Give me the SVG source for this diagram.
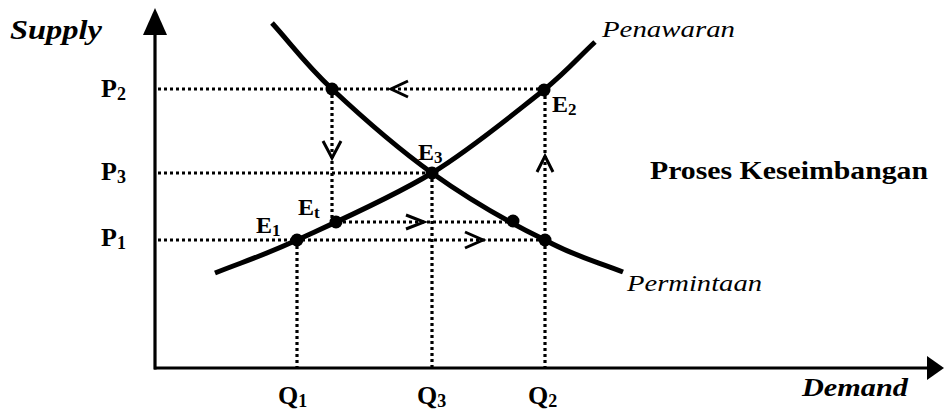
<svg xmlns="http://www.w3.org/2000/svg" width="944" height="416" viewBox="0 0 944 416">
<style>
.t{font-family:"Liberation Serif","Times New Roman",serif;fill:#000}
.b{font-weight:bold}
.i{font-style:italic}
.dot{stroke:#000;stroke-width:3.2;stroke-dasharray:3 3;fill:none}
.crv{stroke:#000;stroke-width:5;fill:none;stroke-linecap:butt}
.ax{stroke:#000;stroke-width:3.2;fill:none}
.chev{stroke:#000;stroke-width:3;fill:none}
.pt{fill:#000}
</style>
<rect width="944" height="416" fill="#fff"/>
<g id="axes">
<line class="ax" x1="155" y1="369.5" x2="155" y2="30"/>
<polygon points="155,8 143,35 167,35" fill="#000"/>
<line class="ax" x1="154" y1="368" x2="930" y2="368"/>
<polygon points="944,368 927,356 927,380" fill="#000"/>
</g>
<g id="connectors">
<line class="dot" x1="158" y1="89" x2="544" y2="89"/>
<line class="dot" x1="158" y1="173" x2="432" y2="173"/>
<line class="dot" x1="158" y1="240" x2="545" y2="240"/>
<line class="dot" x1="337" y1="222" x2="513" y2="222"/>
<line class="dot" x1="332" y1="89" x2="332" y2="222"/>
<line class="dot" x1="297" y1="240" x2="297" y2="367"/>
<line class="dot" x1="432" y1="173" x2="432" y2="367"/>
<line class="dot" x1="545" y1="90" x2="545" y2="367"/>
<polyline class="chev" points="408,81 391,89 408,97"/>
<polyline class="chev" points="323,141 332,158 341,141"/>
<polyline class="chev" points="406,215 424,222 406,229"/>
<polyline class="chev" points="465,232 483,240 465,248"/>
<polyline class="chev" points="537,172 545,156 553,172"/>
</g>
<g id="supply-curve">
<path class="crv" d="M215,273 C242.3,262 260.8,256.7 297,240 C333.2,223.3 391,198 432,173 C473,148 515.8,111.8 544,90 C570.2,68.2 577.7,58 595,42"/>
</g>
<g id="demand-curve">
<path class="crv" d="M272,23 C292,45 305.3,64 332,89 C358.7,114 396.8,147.8 432,173 C467.2,198.2 511.2,223.5 545,240 C574.8,256.5 596.3,261.3 623,272"/>
</g>
<g id="point-E1"><circle class="pt" cx="297" cy="240" r="6.5"/><text class="t b" x="256" y="233" font-size="24">E<tspan font-size="17" dy="3">1</tspan></text></g>
<g id="point-Et"><circle class="pt" cx="336" cy="222" r="6.5"/><text class="t b" x="298" y="215" font-size="24">E<tspan font-size="17" dy="3">t</tspan></text></g>
<g id="point-E3"><circle class="pt" cx="432" cy="173" r="6.5"/><text class="t b" x="418" y="160" font-size="24">E<tspan font-size="17" dy="3">3</tspan></text></g>
<g id="point-E2"><circle class="pt" cx="544" cy="90" r="6.5"/><text class="t b" x="552" y="112" font-size="24">E<tspan font-size="17" dy="3">2</tspan></text></g>
<g id="point-P2-demand"><circle class="pt" cx="332" cy="89" r="6.5"/></g>
<g id="point-demand-t"><circle class="pt" cx="513" cy="221" r="6.5"/></g>
<g id="point-Q2-demand"><circle class="pt" cx="545" cy="240" r="6.5"/></g>
<g id="label-supply"><text class="t b i" x="10" y="39" font-size="28" textLength="92" lengthAdjust="spacingAndGlyphs">Supply</text></g>
<g id="label-demand"><text class="t b i" x="802" y="396" font-size="26" textLength="106" lengthAdjust="spacingAndGlyphs">Demand</text></g>
<g id="label-penawaran"><text class="t i" x="602" y="37" font-size="24" textLength="133" lengthAdjust="spacingAndGlyphs">Penawaran</text></g>
<g id="label-permintaan"><text class="t i" x="627" y="291" font-size="24" textLength="135" lengthAdjust="spacingAndGlyphs">Permintaan</text></g>
<g id="label-proses"><text class="t b" x="650" y="179" font-size="26" textLength="278" lengthAdjust="spacingAndGlyphs">Proses Keseimbangan</text></g>
<g id="label-P2"><text class="t b" x="101" y="97" font-size="26">P<tspan font-size="18" dy="3">2</tspan></text></g>
<g id="label-P3"><text class="t b" x="101" y="180" font-size="26">P<tspan font-size="18" dy="3">3</tspan></text></g>
<g id="label-P1"><text class="t b" x="101" y="246" font-size="26">P<tspan font-size="18" dy="3">1</tspan></text></g>
<g id="label-Q1"><text class="t b" x="278" y="404" font-size="26">Q<tspan font-size="18" dy="3">1</tspan></text></g>
<g id="label-Q3"><text class="t b" x="417" y="404" font-size="26">Q<tspan font-size="18" dy="3">3</tspan></text></g>
<g id="label-Q2"><text class="t b" x="528" y="404" font-size="26">Q<tspan font-size="18" dy="3">2</tspan></text></g>
</svg>
